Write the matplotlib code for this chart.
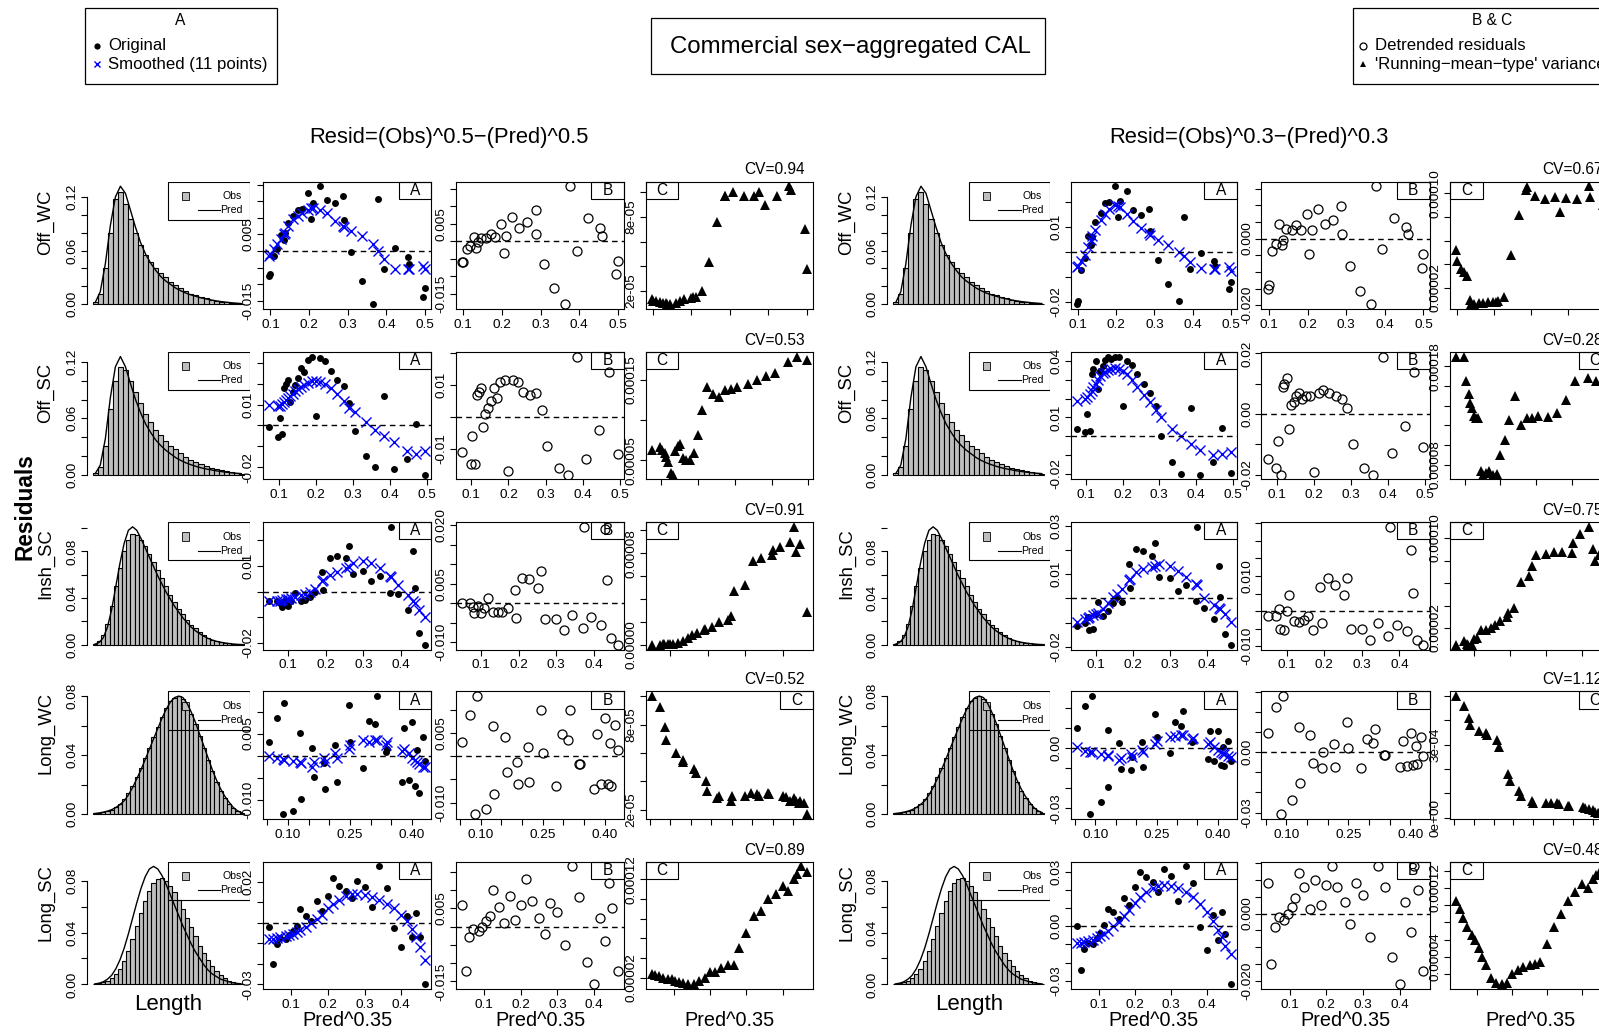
import numpy as np
import matplotlib
matplotlib.use("Agg")
import matplotlib.pyplot as plt
from matplotlib.patches import Rectangle
from matplotlib.lines import Line2D

plt.rcParams["font.family"] = ["Liberation Sans", "DejaVu Sans"]

W, H = 1599, 1034
# layout positions below were measured on a 1568-wide view of the page
W0, H0 = 1568, 1014

rows = ["Off_WC", "Off_SC", "Insh_SC", "Long_WC", "Long_SC"]

# length-composition histograms (same on both halves)
obs_off_wc = [0.003, 0.012, 0.040, 0.080, 0.118, 0.125, 0.112, 0.095, 0.080, 0.066, 0.055, 0.047, 0.041, 0.035, 0.030,
              0.025, 0.021, 0.018, 0.015, 0.012, 0.010, 0.008, 0.0065, 0.005, 0.004, 0.003, 0.0022, 0.0015, 0.001, 0.0006]
pred_off_wc = [0.002, 0.014, 0.045, 0.088, 0.120, 0.132, 0.124, 0.105, 0.086, 0.069, 0.056, 0.046, 0.038, 0.031, 0.026,
               0.022, 0.018, 0.015, 0.0125, 0.0105, 0.0088, 0.0072, 0.006, 0.0048, 0.0038, 0.003, 0.0023, 0.0017, 0.0012, 0.0008]
obs_off_sc = [0.002, 0.008, 0.030, 0.070, 0.100, 0.115, 0.112, 0.100, 0.088, 0.076, 0.065, 0.056, 0.048, 0.042, 0.036,
              0.031, 0.027, 0.023, 0.019, 0.016, 0.013, 0.011, 0.009, 0.007, 0.0055, 0.0045, 0.0035, 0.0025, 0.0018, 0.001]
pred_off_sc = [0.001, 0.010, 0.038, 0.082, 0.115, 0.126, 0.115, 0.097, 0.080, 0.066, 0.054, 0.045, 0.037, 0.031, 0.026,
               0.022, 0.018, 0.015, 0.0125, 0.0105, 0.0087, 0.0072, 0.006, 0.005, 0.004, 0.0032, 0.0025, 0.0019, 0.0014, 0.001]
obs_insh_sc = [0.001, 0.003, 0.008, 0.018, 0.033, 0.050, 0.066, 0.080, 0.090, 0.095, 0.094, 0.090, 0.085, 0.078, 0.071,
               0.064, 0.057, 0.050, 0.043, 0.037, 0.031, 0.026, 0.021, 0.017, 0.014, 0.011, 0.008, 0.006, 0.0045, 0.0033,
               0.0024, 0.0017, 0.0012, 0.0008, 0.0005, 0.0003]
pred_insh_sc = [0.0005, 0.002, 0.006, 0.015, 0.030, 0.050, 0.070, 0.087, 0.098, 0.101, 0.098, 0.091, 0.083, 0.075, 0.067,
                0.059, 0.052, 0.045, 0.039, 0.033, 0.028, 0.023, 0.019, 0.015, 0.012, 0.0095, 0.0073, 0.0055, 0.0041, 0.003,
                0.0022, 0.0016, 0.0011, 0.0007, 0.0004, 0.0002]
obs_long_wc = [0.0005, 0.001, 0.0015, 0.002, 0.003, 0.005, 0.007, 0.010, 0.014, 0.019, 0.025, 0.031, 0.038, 0.045, 0.052,
               0.059, 0.066, 0.072, 0.077, 0.079, 0.080, 0.078, 0.074, 0.068, 0.061, 0.053, 0.045, 0.037, 0.029, 0.022,
               0.016, 0.011, 0.007, 0.004, 0.002, 0.001]
pred_long_wc = [0.0004, 0.0008, 0.0013, 0.002, 0.003, 0.0045, 0.0065, 0.009, 0.013, 0.018, 0.024, 0.030, 0.037, 0.044, 0.051,
                0.058, 0.065, 0.071, 0.076, 0.079, 0.080, 0.079, 0.075, 0.069, 0.062, 0.054, 0.046, 0.038, 0.030, 0.023,
                0.017, 0.012, 0.008, 0.0045, 0.0022, 0.001]
obs_long_sc = [0.0005, 0.001, 0.002, 0.003, 0.005, 0.008, 0.012, 0.018, 0.026, 0.035, 0.045, 0.055, 0.064, 0.072, 0.078,
               0.081, 0.082, 0.080, 0.076, 0.071, 0.065, 0.058, 0.051, 0.044, 0.037, 0.030, 0.024, 0.019, 0.014, 0.010,
               0.007, 0.005, 0.003, 0.002, 0.001, 0.0005]
pred_long_sc = [0.0004, 0.0009, 0.002, 0.004, 0.007, 0.012, 0.019, 0.028, 0.039, 0.051, 0.063, 0.074, 0.083, 0.089, 0.091,
                0.089, 0.084, 0.077, 0.069, 0.061, 0.053, 0.045, 0.038, 0.031, 0.025, 0.020, 0.015, 0.011, 0.008, 0.006,
                0.004, 0.003, 0.002, 0.0012, 0.0007, 0.0003]

# Pred^0.35 for each fleet
x_off_wc = [0.097, 0.100, 0.109, 0.118, 0.127, 0.134, 0.137, 0.145, 0.159, 0.171, 0.182, 0.198, 0.205, 0.211, 0.227,
            0.245, 0.266, 0.287, 0.289, 0.309, 0.336, 0.364, 0.377, 0.393, 0.423, 0.455, 0.459, 0.495, 0.500]
x_off_sc = [0.075, 0.098, 0.103, 0.110, 0.115, 0.120, 0.126, 0.132, 0.138, 0.145, 0.152, 0.160, 0.168, 0.178, 0.190,
            0.200, 0.212, 0.225, 0.240, 0.258, 0.275, 0.290, 0.305, 0.335, 0.360, 0.385, 0.410, 0.445, 0.470, 0.495]
x_insh_sc = [0.05, 0.071, 0.079, 0.083, 0.093, 0.1, 0.107, 0.119, 0.133, 0.146, 0.157, 0.171, 0.19, 0.193, 0.21,
             0.229, 0.253, 0.261, 0.271, 0.3, 0.321, 0.343, 0.371, 0.374, 0.393, 0.419, 0.431, 0.436, 0.447, 0.464]
x_long_wc = [0.055, 0.074, 0.087, 0.091, 0.113, 0.13, 0.132, 0.158, 0.164, 0.187, 0.19, 0.215, 0.218, 0.247, 0.25,
             0.282, 0.296, 0.311, 0.315, 0.337, 0.34, 0.375, 0.382, 0.392, 0.401, 0.407, 0.413, 0.416, 0.426, 0.432]
x_long_sc = [0.04, 0.05, 0.06, 0.07, 0.085, 0.095, 0.105, 0.115, 0.125, 0.14, 0.155, 0.17, 0.185, 0.2, 0.215,
             0.23, 0.25, 0.265, 0.28, 0.3, 0.32, 0.34, 0.36, 0.38, 0.4, 0.415, 0.43, 0.44, 0.45, 0.465]

# power 0.5 residuals (x1e-3): smoothed and detrended, variance (x1e-5)
sm05_off_wc = [-1.5, -1, 0.5, 2, 3.5, 5, 5.5, 7.5, 9.5, 10.5, 11.5, 12.5, 13, 13, 12.5, 11.5, 9, 7.5, 7.3, 6, 4.5, 2, 0,
               -2.5, -5.5, -5.5, -5.3, -4.5, -5.5]
dt05_off_wc = [-5.9, -5.9, -2.1, -1.4, 1.2, -1.8, -0.2, 1.0, 1.0, 2.0, 1.2, 5.0, -3.3, 1.4, 7.0, 3.8, 5.5, 9.0, 2.0,
               -6.4, -13.5, -18.0, 15.7, -2.8, 6.5, 3.8, 1.4, -9.4, -5.6]
var05_off_wc = [1.3, 1.2, 1.2, 1.1, 1.0, 1.0, 0.9, 0.9, 1.0, 1.2, 1.3, 1.4, 1.5, 1.5, 2.0, 4.3, 7.6, 9.7, 9.7, 10.0,
                9.7, 9.7, 10.0, 9.0, 9.7, 10.5, 10.2, 7.0, 3.8]
sm05_off_sc = [10, 9.5, 9.5, 10.5, 11, 12, 13, 14, 15, 16.5, 17.5, 18.5, 19.5, 20.5, 21.5, 21.5, 21, 20, 18, 15, 11.5,
               8.5, 6.5, 1.5, -2, -5, -8, -12, -13.5, -12]
dt05_off_sc = [-10.8, -14.8, -6, -14.8, 7, 8, 9, -3, 1, 3, 5, 9, 6, 11, 11.5, -17, 11.5, 11, 8, 7, 7.6, 2.3, -9,
               -16, -18, 19, -13, -4, 14, -11.5]
var05_off_sc = [6.3, 6.6, 6.2, 5.9, 5.4, 4.8, 3.4, 3.2, 6.1, 6.8, 7.0, 5.2, 5.0, 5.0, 5.9, 8.1, 11.2, 14.1, 13.2, 12.8,
                13.7, 13.9, 14.1, 14.5, 15.0, 15.5, 15.9, 17.2, 17.9, 17.5]
sm05_insh_sc = [-3.5, -3.5, -3.5, -3.3, -3, -3, -2.5, -2, -1.5, -1, 0, 1, 4, 4.5, 6.5, 7.5, 9, 9.5, 11, 12, 11, 9, 6,
                5.5, 2.5, -1.5, -3.5, -4.5, -7, -10]
dt05_insh_sc = [0, 0, -0.9, -2.6, -0.6, -2.6, -1.3, 1.3, -2.2, -2.2, -2.2, -1.3, 3.5, -3.9, 6.5, 6.1, 3.9, 8.3, -4.1,
                -4.1, -7, -3, -6.5, 19.6, -3.5, -5.5, 19.1, 6, -9, -10.7]
var05_insh_sc = [0, 0, 0.05, 0.1, 0.1, 0.1, 0.1, 0.2, 0.35, 0.6, 0.9, 1.0, 1.3, 1.4, 1.6, 2.0, 2.2, 2.5, 4.7, 5.2,
                 7.3, 7.6, 7.8, 8.3, 8.5, 9.0, 10.3, 8.1, 8.8, 2.9]
sm05_long_wc = [0, -0.5, -0.8, -1, -1.2, -1.5, -1.6, -2.5, -1.5, -0.5, -1.5, 0.5, -0.5, 1.5, 2.5, 3.5, 3, 3.5, 3.5,
                2.5, 3, 1, 1.5, 0.5, -0.5, -1, -1.5, -2, -2.5, -2.5]
dt05_long_wc = [3.1, 9, -12.5, 13, -11.5, 6.6, -8.2, 4.2, -3.4, -1.2, -6, 1.9, -5.6, 10, 0.6, -6.4, 4.8, 3.6, 10,
                -1.6, -1.6, -7, 4.8, -6, 8.2, -6, 2.8, -6.5, 6.8, 1.3]
var05_long_wc = [10.0, 9.2, 7.8, 6.9, 6.0, 5.5, 5.4, 4.9, 4.6, 4.0, 3.3, 2.8, 3.0, 2.6, 3.0, 3.0, 3.2, 3.1, 3.0, 3.2,
                 3.1, 3.0, 2.9, 2.6, 2.8, 2.6, 2.5, 2.6, 2.5, 1.7]
sm05_long_sc = [-8, -8, -7.5, -7, -6.5, -6, -5.5, -4.5, -3.5, -2, 0, 2, 4, 7, 9, 11, 13, 14, 14, 13.5, 12.5, 11, 9, 7,
                4, 1, -3, -7, -12, -18]
dt05_long_sc = [5.8, -12, -2.7, -0.6, -1.2, 0, 1.5, 3, 10, 5.5, 1, 8.5, 1.8, 6, 13, 7, 2.4, -2, 6.4, 4, -5, 16.5, 8,
                -9.7, -15.8, 2.4, -4, 12, 5, -12]
var05_long_sc = [2.4, 2.3, 2.2, 2.0, 1.9, 1.8, 1.6, 1.5, 1.4, 1.3, 1.3, 1.6, 2.0, 2.6, 2.6, 3.0, 3.3, 3.3, 5.0, 6.5,
                 8.3, 8.8, 10.0, 10.5, 11.3, 10.8, 12.0, 12.5, 13.3, 12.7]

# power 0.3 residuals
sm03_off_wc = [-6, -5.5, -3.5, -1, 2, 5, 6.5, 9, 13, 15.5, 17.5, 19, 18.5, 18, 15.5, 12.5, 9.5, 7.5, 7, 5, 3, 0, -1.5,
               -4, -6.5, -7, -7, -6, -7.5]
dt03_off_wc = [-15, -14, -3.7, -1.5, 4.5, -2, -0.5, 3, 2.7, 4.2, 2.5, 7.5, -4.5, 2.5, 9, 4.5, 5.5, 9.7, 1.3, -8.3,
               -15.7, -19.7, 15.7, -3, 6.3, 3.5, 1.5, -8.7, -4.7]
var03_off_wc = [5.2, 4.3, 3.6, 3.3, 3.0, 1.0, 0.6, 0.6, 0.7, 0.7, 0.8, 0.8, 0.8, 0.9, 1.2, 4.8, 8.2, 10.3, 10.5, 9.8,
                9.5, 9.7, 8.4, 9.6, 9.5, 10.6, 9.7, 9.0, 8.5]
sm03_off_sc = [19, 20, 21, 22.5, 24, 26, 28, 30, 32, 33.5, 34.5, 35.5, 36, 36.5, 36, 35, 33, 30, 26, 22, 18, 14, 10, 4,
               0, -4, -7.5, -10, -9.5, -8.5]
dt03_off_sc = [-15, -18, -9, -20, 9, 10, 12, -5, 3, 4, 6, 7, 5, 6, 6, -19, 7, 8, 7, 6, 5, 2, -10, -18, -20, 19, -13,
               -4, 14, -11]
var03_off_sc = [19, 19, 16.5, 15.2, 14.3, 13.8, 13, 12.8, 12.8, 7.4, 7.0, 7.2, 7.4, 7.0, 7.1, 9.0, 10.5, 12.5, 15.0,
                12.0, 12.8, 12.8, 13.0, 12.9, 13.3, 14.6, 16.5, 16.8, 16.5, 17.0]
sm03_insh_sc = [-9.7, -8.5, -8, -7.8, -7, -6.5, -6, -4.5, -2, 0.5, 2, 4, 7.5, 8, 11, 12, 13, 13.5, 14, 13.5, 11.5, 9,
                6, 5.5, 0, -2.5, -4, -4.5, -6.5, -9.5]
dt03_insh_sc = [-1.5, -1.5, 0.5, -5, -5.5, 0, 4.6, -2.7, -3, -2.5, -1.5, -5.5, 6.8, -3.5, 9.3, 7.5, 4.5, 9.3, -5, -5,
                -8.3, -3.5, -7, 24, -4, -5.8, 17.5, 5.2, -8.3, -9.6]
var03_insh_sc = [0.5, 0.8, 0.6, 0.5, 0.5, 1.0, 1.1, 1.8, 1.8, 2.0, 2.3, 2.6, 3.0, 3.3, 3.8, 6.1, 6.6, 7.5, 8.5, 8.6,
                 8.8, 8.8, 8.7, 9.6, 10.4, 11.0, 9.0, 8.0, 8.5, 7.5]
sm03_long_wc = [0.5, -1.5, -2, -2, -3, -3.5, -4, -6, -5, -3, -4.5, -1, -2, 2, 3.5, 5.5, 6, 6.5, 6.5, 4.5, 5, 2, 3, 0.5,
                -1, -2, -2.5, -3, -4, -4.5]
dt03_long_wc = [9.5, 22.5, -30.8, 27.8, -24, 12.5, -15.5, 8.3, -5.5, -8, 0, 3.8, -7.5, 15, 2.2, -8, 6.7, 4.5, 11.7,
                -1.3, -1.3, -7.5, 5.3, -7, 9.5, -6.5, 3, -6, 7.5, -2]
var03_long_wc = [50, 46, 41, 38, 35.5, 35, 34, 32, 29, 18, 15, 11, 9, 7, 6, 6, 6, 6, 5.5, 5, 5, 4.5, 4, 3.5, 3, 2.5,
                 2, 2, 1.8, 1.5]
sm03_long_sc = [-9, -9, -8.5, -8, -7.5, -6.5, -5.5, -4, -2.5, 0, 2.5, 5.5, 9, 13, 16, 19, 21, 22, 22.5, 22, 21, 19, 16,
                12.5, 8, 3, -2, -6, -11, -15]
dt03_long_sc = [9, -15, -4, -1, -2, 0, 2, 4.5, 12, 8, 1.5, 10, 2.5, 8.5, 14, 8, 3.5, -3, 9, 5.5, -7, 14, 8, -13, -21,
                3.5, -5.5, 14, 7, -17]
var03_long_sc = [10.5, 9.5, 8.5, 7.5, 6.5, 6.0, 5.0, 4.0, 3.0, 1.5, 1.0, 0.8, 1.0, 2.0, 2.5, 2.8, 3.0, 3.2, 3.4, 5.5,
                 7.5, 9.0, 10.5, 11.5, 12.5, 12.0, 13.0, 13.5, 14.0, 14.5]

cv05 = [0.94, 0.53, 0.91, 0.52, 0.89]
cv03 = [0.67, 0.28, 0.75, 1.12, 0.48]

# axis labelling as printed
xt_step = [0.1, 0.1, 0.1, 0.05, 0.1]
xt_labels = [["0.1", "0.2", "0.3", "0.4", "0.5"], ["0.1", "0.2", "0.3", "0.4", "0.5"], ["0.1", "0.2", "0.3", "0.4"],
             ["0.10", "0.25", "0.40"], ["0.1", "0.2", "0.3", "0.4"]]
hist_labels = [["0.00", "0.06", "0.12"], ["0.00", "0.06", "0.12"], ["0.00", "0.04", "0.08"],
               ["0.00", "0.04", "0.08"], ["0.00", "0.04", "0.08"]]
a05_step = [0.005, 0.01, 0.01, 0.005, 0.01]
a05_labels = [["-0.015", "0.005"], ["-0.02", "0.01"], ["-0.02", "0.01"], ["-0.010", "0.005"], ["-0.03", "0.02"]]
b05_step = [0.005, 0.01, 0.005, 0.005, 0.005]
b05_labels = [["-0.015", "0.005"], ["-0.01", "0.01"], ["-0.010", "0.005", "0.020"], ["-0.010", "0.005"],
              ["-0.015", "0.005"]]
c05_step = [2e-5, 5e-5, 2e-5, 2e-5, 2e-5]
c05_labels = [["2e-05", "8e-05"], ["0.00005", "0.00015"], ["0.00000", "0.00008"], ["2e-05", "8e-05"],
              ["0.00002", "0.00012"]]
a03_step = [0.01, 0.01, 0.01, 0.01, 0.01]
a03_labels = [["-0.02", "0.01"], ["-0.02", "0.01", "0.04"], ["-0.02", "0.01", "0.03"], ["-0.03", "0.00"],
              ["-0.03", "0.00", "0.03"]]
b03_step = [0.005, 0.01, 0.005, 0.01, 0.005]
b03_labels = [["-0.020", "0.000"], ["-0.02", "0.00", "0.02"], ["-0.010", "0.010"], ["-0.03", "0.00"],
              ["-0.020", "0.000"]]
c03_step = [2e-5, 2e-5, 2e-5, 1e-4, 2e-5]
c03_labels = [["0.00002", "0.00010"], ["0.00008", "0.00018"], ["0.00002", "0.00010"], ["0e+00", "3e-04"],
              ["0.00004", "0.00012"]]
c05_corner = ["left", "left", "left", "right", "left"]
c03_corner = ["left", "right", "left", "right", "left"]

hist_obs = [obs_off_wc, obs_off_sc, obs_insh_sc, obs_long_wc, obs_long_sc]
hist_pred = [pred_off_wc, pred_off_sc, pred_insh_sc, pred_long_wc, pred_long_sc]
x_all = [x_off_wc, x_off_sc, x_insh_sc, x_long_wc, x_long_sc]
half05 = dict(sm=[sm05_off_wc, sm05_off_sc, sm05_insh_sc, sm05_long_wc, sm05_long_sc],
              dt=[dt05_off_wc, dt05_off_sc, dt05_insh_sc, dt05_long_wc, dt05_long_sc],
              var=[var05_off_wc, var05_off_sc, var05_insh_sc, var05_long_wc, var05_long_sc],
              cv=cv05, a_step=a05_step, a_lab=a05_labels, b_step=b05_step, b_lab=b05_labels,
              c_step=c05_step, c_lab=c05_labels, corner=c05_corner,
              cols=dict(h=(85, 245), a=(258, 423), b=(447, 612), c=(633, 797)))
half03 = dict(sm=[sm03_off_wc, sm03_off_sc, sm03_insh_sc, sm03_long_wc, sm03_long_sc],
              dt=[dt03_off_wc, dt03_off_sc, dt03_insh_sc, dt03_long_wc, dt03_long_sc],
              var=[var03_off_wc, var03_off_sc, var03_insh_sc, var03_long_wc, var03_long_sc],
              cv=cv03, a_step=a03_step, a_lab=a03_labels, b_step=b03_step, b_lab=b03_labels,
              c_step=c03_step, c_lab=c03_labels, corner=c03_corner,
              cols=dict(h=(870, 1030), a=(1050, 1213), b=(1237, 1402), c=(1422, 1580)))

row_top = [178, 345, 512, 678, 845]
ROW_H = 125

fig = plt.figure(figsize=(W / 100, H / 100), dpi=100)


def add_ax(x0, y0, x1, y1):
    return fig.add_axes([x0 / W0, 1 - y1 / H0, (x1 - x0) / W0, (y1 - y0) / H0])


def ftext(x, y, s, **kw):
    fig.text(x / W0, 1 - y / H0, s, **kw)


def r_range(*arrs):
    v = np.concatenate([np.asarray(a, float) for a in arrs])
    pad = 0.04 * (v.max() - v.min())
    return v.min() - pad, v.max() + pad


def ticks_for(lim, step, labels):
    lo, hi = lim
    k = np.arange(np.ceil(lo / step - 1e-9), np.floor(hi / step + 1e-9) + 1)
    shown = {int(round(float(s) / step)): s for s in labels}
    return k * step, [shown.get(int(round(i)), "") for i in k]


def style(ax):
    for s in ax.spines.values():
        s.set_linewidth(0.8)
    ax.tick_params(direction="out", length=4, width=0.8, labelsize=9.7, pad=2)
    ax.tick_params(axis="x", pad=3)


def yaxis(ax, step, labels):
    t, lab = ticks_for(ax.get_ylim(), step, labels)
    ax.set_yticks(t)
    ax.set_yticklabels(lab, rotation=90, va="center")


def xaxis(ax, step, labels, show=True):
    t, lab = ticks_for(ax.get_xlim(), step, labels)
    ax.set_xticks(t)
    ax.set_xticklabels(lab if show else [""] * len(t))


def corner_box(ax, txt, side):
    pos = ax.get_position()
    w = 32 / (pos.width * W0)
    h = 17 / (pos.height * H0)
    x0 = 1 - w if side == "right" else 0
    ax.add_patch(Rectangle((x0, 1 - h), w, h, transform=ax.transAxes, fill=False, lw=0.8, clip_on=False))
    ax.text(x0 + w / 2, 1 - h / 2, txt, transform=ax.transAxes, ha="center", va="center", fontsize=11.2)


def hist_panel(r, x0, x1, top):
    ax = add_ax(x0, top, x1, top + ROW_H)
    obs, pred = np.array(hist_obs[r]), np.array(hist_pred[r])
    n = len(obs)
    idx = np.arange(n)
    ax.bar(idx, obs, width=1.0, color="#BEBEBE", edgecolor="black", linewidth=0.8)
    ax.plot(idx, pred, color="black", lw=1.0)
    ax.set_xlim(-0.5 - 0.04 * n, n - 0.5 + 0.04 * n)
    ymax = max(obs.max(), pred.max())
    ax.set_ylim(-0.04 * ymax, 1.04 * ymax)
    for s in ["top", "right", "bottom"]:
        ax.spines[s].set_visible(False)
    style(ax)
    ax.set_xticks([])
    yaxis(ax, 0.02, hist_labels[r])
    ax.spines["left"].set_bounds(0, float(hist_labels[r][-1]))
    # legend
    ax.add_patch(Rectangle((0.5, 0.70), 0.5, 0.30, transform=ax.transAxes, fill=False, lw=0.8))
    ax.add_patch(Rectangle((0.585, 0.855), 0.045, 0.065, transform=ax.transAxes, fc="#BEBEBE", ec="black", lw=0.6))
    ax.plot([0.68, 0.82], [0.775, 0.775], transform=ax.transAxes, color="black", lw=0.8)
    ax.text(0.83, 0.885, "Obs", transform=ax.transAxes, fontsize=7.6, va="center")
    ax.text(0.82, 0.775, "Pred", transform=ax.transAxes, fontsize=7.6, va="center")
    ftext(x0 - 40, top + ROW_H / 2 - 22, rows[r], rotation=90, ha="center", va="center", fontsize=13.3)


def draw_half(half):
    cols = half["cols"]
    for r in range(5):
        top = row_top[r]
        x = np.array(x_all[r])
        sm = np.array(half["sm"][r]) * 1e-3
        dt = np.array(half["dt"][r]) * 1e-3
        obs = sm + dt
        var = np.array(half["var"][r]) * 1e-5
        xlim = r_range(x)

        hist_panel(r, *cols["h"], top)

        # A: original and smoothed residuals
        ax = add_ax(cols["a"][0], top, cols["a"][1], top + ROW_H)
        ax.plot(x, obs, "o", color="black", ms=5, mew=0)
        ax.plot(x, sm, "x", color="#0000FF", ms=6.5, mew=1.0)
        ax.axhline(0, color="black", lw=1.0, ls=(0, (4, 3)))
        ax.set_xlim(xlim)
        ax.set_ylim(r_range(obs, sm))
        style(ax)
        xaxis(ax, xt_step[r], xt_labels[r])
        yaxis(ax, half["a_step"][r], half["a_lab"][r])
        corner_box(ax, "A", "right")

        # B: detrended residuals
        ax = add_ax(cols["b"][0], top, cols["b"][1], top + ROW_H)
        ax.plot(x, dt, "o", mfc="none", mec="black", ms=6.5, mew=0.9)
        ax.axhline(0, color="black", lw=1.0, ls=(0, (4, 3)))
        ax.set_xlim(xlim)
        ax.set_ylim(r_range(dt))
        style(ax)
        xaxis(ax, xt_step[r], xt_labels[r])
        yaxis(ax, half["b_step"][r], half["b_lab"][r])
        corner_box(ax, "B", "right")

        # C: running-mean-type variance
        ax = add_ax(cols["c"][0], top, cols["c"][1], top + ROW_H)
        ax.plot(x, var, "^", color="black", ms=6.5, mew=0)
        ax.set_xlim(xlim)
        ax.set_ylim(r_range(var))
        style(ax)
        xaxis(ax, xt_step[r], xt_labels[r], show=False)
        yaxis(ax, half["c_step"][r], half["c_lab"][r])
        corner_box(ax, "C", half["corner"][r])
        ax.text(1.0 - 8 / (cols["c"][1] - cols["c"][0]), 1.0 + 4 / ROW_H, "CV=%.2f" % half["cv"][r],
                transform=ax.transAxes, ha="right", va="bottom", fontsize=11.2)

    # bottom axis titles
    ftext((cols["h"][0] + cols["h"][1]) / 2, 985, "Length", ha="center", va="center", fontsize=16)
    for k in ["a", "b", "c"]:
        ftext((cols[k][0] + cols[k][1]) / 2, 1001, "Pred^0.35", ha="center", va="center", fontsize=14.3)


draw_half(half05)
draw_half(half03)


def fig_box(x0, y0, x1, y1):
    fig.add_artist(Rectangle((x0 / W0, 1 - y1 / H0), (x1 - x0) / W0, (y1 - y0) / H0, transform=fig.transFigure,
                             fill=False, lw=0.9, ec="black"))


def fig_marker(x, y, **kw):
    fig.add_artist(Line2D([x / W0], [1 - y / H0], transform=fig.transFigure, ls="none", **kw))


# top legends and title
fig_box(83, 8, 272, 82)
ftext(177, 20, "A", ha="center", va="center", fontsize=11.2)
fig_marker(95, 45, marker="o", color="black", ms=4.5, mew=0)
ftext(106, 45, "Original", va="center", fontsize=12.1)
fig_marker(95, 63, marker="x", color="#0000FF", ms=5, mew=1)
ftext(106, 63, "Smoothed (11 points)", va="center", fontsize=12.1)

fig_box(638, 18, 1025, 73)
ftext(834, 46, "Commercial sex\u2212aggregated CAL", ha="center", va="center", fontsize=17.3)

fig_box(1327, 8, 1640, 82)
ftext(1463, 20, "B & C", ha="center", va="center", fontsize=11.2)
fig_marker(1337, 45, marker="o", mfc="none", mec="black", ms=5, mew=0.9)
ftext(1348, 45, "Detrended residuals", va="center", fontsize=12.1)
fig_marker(1337, 63, marker="^", color="black", ms=5, mew=0)
ftext(1348, 63, "'Running\u2212mean\u2212type' variance", va="center", fontsize=12.1)

ftext(440, 135, "Resid=(Obs)^0.5\u2212(Pred)^0.5", ha="center", va="center", fontsize=15.8)
ftext(1225, 135, "Resid=(Obs)^0.3\u2212(Pred)^0.3", ha="center", va="center", fontsize=15.8)
ftext(25, 497, "Residuals", rotation=90, ha="center", va="center", fontsize=16.3, fontweight="bold")

fig.savefig("out.png", dpi=100)
